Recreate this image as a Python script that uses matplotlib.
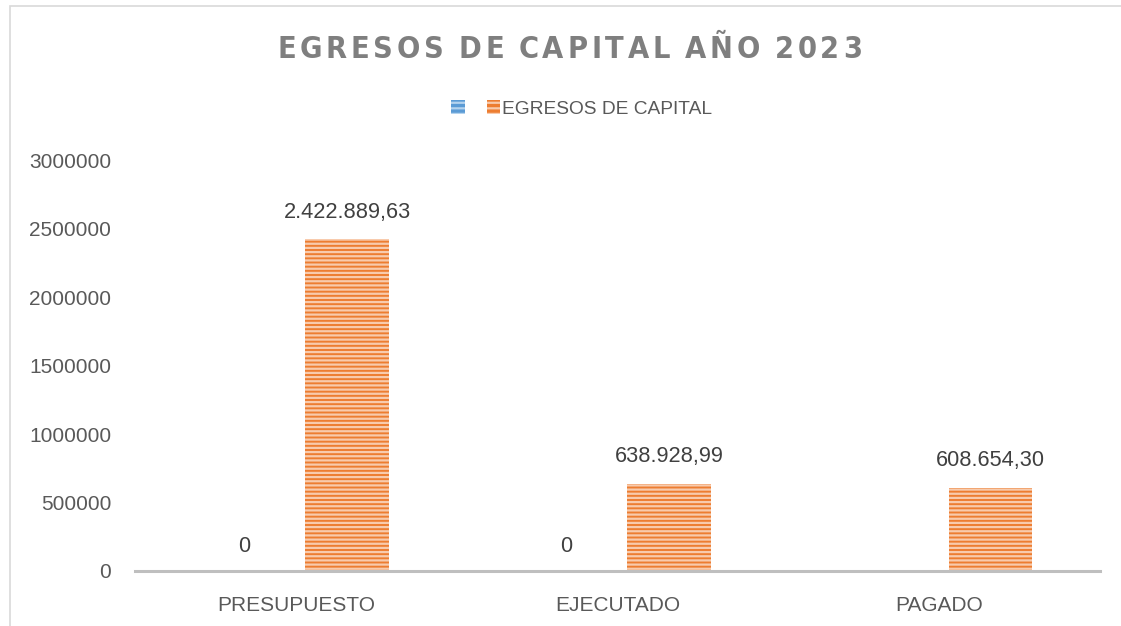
"""EGRESOS DE CAPITAL AÑO 2023 -- clustered bar chart, Excel style."""
import numpy as np
import matplotlib
matplotlib.use("Agg")
import matplotlib.pyplot as plt
from matplotlib import font_manager
from matplotlib.patches import Patch, Rectangle

categories = ["PRESUPUESTO", "EJECUTADO", "PAGADO"]
blank_series = [0, 0, 0]
capital = [2422889.63, 638928.99, 608654.30]
blank_labels = ["0", "0", ""]
capital_labels = ["2.422.889,63", "638.928,99", "608.654,30"]
series_name = "EGRESOS DE CAPITAL"
title = "EGRESOS DE CAPITAL AÑO 2023"

BLUE = "#5B9BD5"
ORANGE = "#ED7D31"
TEXT = "#595959"

plt.rcParams["font.family"] = ["Liberation Sans", "DejaVu Sans"]
plt.rcParams["hatch.linewidth"] = 1.6


def have_font(name):
    try:
        font_manager.findfont(font_manager.FontProperties(family=name),
                              fallback_to_default=False)
        return True
    except ValueError:
        return False


title_family = ["Liberation Sans Narrow"] if have_font("Liberation Sans Narrow") \
    else ["DejaVu Sans"]
title_stretch = "normal" if title_family[0] != "DejaVu Sans" else "condensed"

fig = plt.figure(figsize=(11.21, 6.26), dpi=100)
ax = fig.add_axes([0.1204, 0.0879, 0.8609, 0.6561])

x = np.arange(len(categories))
width = 0.26
offset = 0.16
ax.bar(x - offset, blank_series, width, color=BLUE, edgecolor="#B4D3EE",
       linewidth=0, hatch="----")
ax.bar(x + offset, capital, width, color=ORANGE, edgecolor="#F8CBAD",
       linewidth=0, hatch="----")

for xi, lab in zip(x - offset, blank_labels):
    if lab:
        ax.annotate(lab, (xi, 0), xytext=(0, 10), textcoords="offset points",
                    ha="center", va="bottom", fontsize=15.7, color="#404040")
for xi, v, lab in zip(x + offset, capital, capital_labels):
    ax.annotate(lab, (xi, v), xytext=(0, 12), textcoords="offset points",
                ha="center", va="bottom", fontsize=15.7, color="#404040")

ax.set_xlim(-0.5, len(categories) - 0.5)
ax.set_ylim(0, 3000000)
ax.set_yticks(np.arange(0, 3000001, 500000))
ax.set_yticklabels([f"{int(t)}" for t in ax.get_yticks()])
ax.set_xticks(x)
ax.set_xticklabels(categories)
ax.tick_params(axis="both", length=0, labelsize=15, labelcolor=TEXT)
ax.tick_params(axis="y", pad=17)
ax.tick_params(axis="x", pad=18)
for side in ("top", "right", "left"):
    ax.spines[side].set_visible(False)
ax.spines["bottom"].set_color("#BFBFBF")
ax.spines["bottom"].set_linewidth(2.2)

# title with wide letter spacing: one text per character, spread over the span
renderer = fig.canvas.get_renderer()
title_kw = dict(fontsize=22, fontweight="bold", color="#7F7F7F",
                family=title_family, fontstretch=title_stretch, va="center")
widths = []
for ch in title:
    if ch == " ":
        widths.append(7.0)
        continue
    t = fig.text(0, 0, ch, **title_kw)
    widths.append(t.get_window_extent(renderer).width)
    t.remove()
left_px, right_px = 277.0, 862.0
gap = (right_px - left_px - sum(widths)) / (len(title) - 1)
pos = left_px
for ch, w in zip(title, widths):
    if ch != " ":
        fig.text(pos / 1121, 0.921, ch, ha="left", **title_kw)
    pos += w + gap

handles = [Patch(facecolor=BLUE, edgecolor="#B4D3EE", linewidth=0, hatch="---"),
           Patch(facecolor=ORANGE, edgecolor="#F8CBAD", linewidth=0, hatch="---")]
fig.legend(handles, ["", series_name], loc="center", bbox_to_anchor=(0.519, 0.826),
           ncol=2, frameon=False, fontsize=13.8, labelcolor=TEXT,
           handlelength=0.7, handleheight=0.7, handletextpad=0.1, columnspacing=1.05)

# chart-area frame
fig.patches.append(Rectangle((0.009, -0.05), 1.1, 1.04, transform=fig.transFigure,
                             fill=False, edgecolor="#D9D9D9", linewidth=1.2))

fig.savefig("out.png", dpi=100)
